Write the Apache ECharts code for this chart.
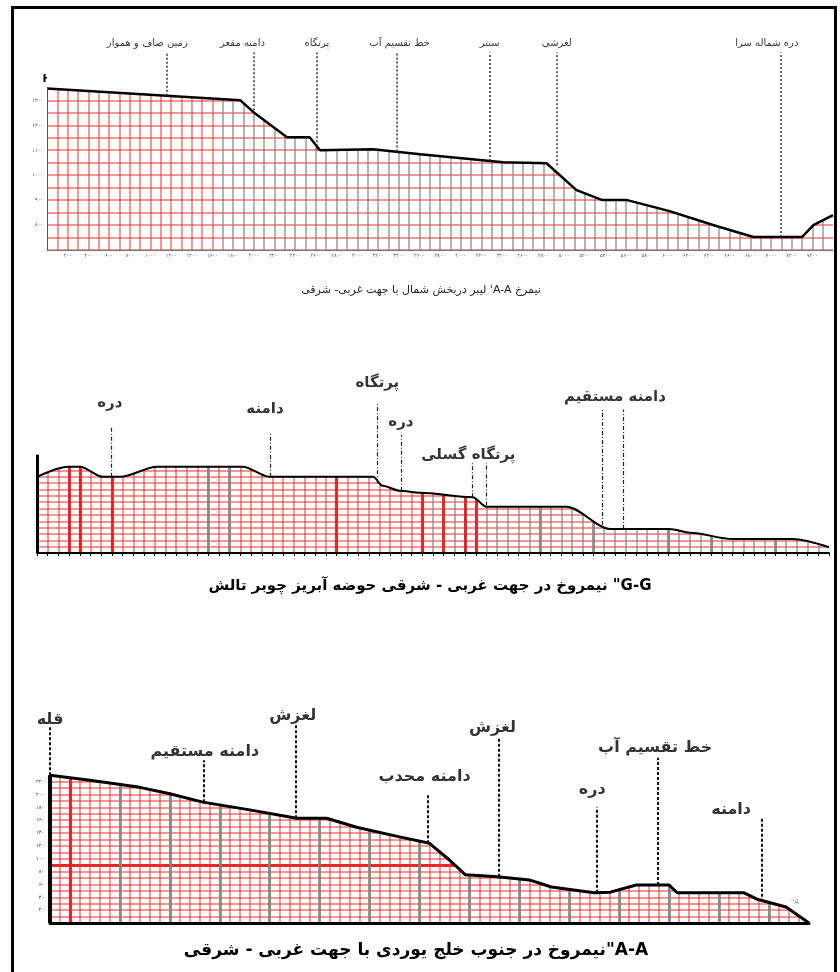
<!DOCTYPE html>
<html>
<head>
<meta charset="utf-8">
<script src="https://cdn.jsdelivr.net/npm/echarts@6/dist/echarts.min.js"></script>
<style>
  body { margin: 0; background: #fff; }
  #chart { position: absolute; left: 0; top: 0; width: 840px; height: 972px; direction: rtl; }
  #frame { position: absolute; left: 11px; top: 6px; width: 826px; height: 972px; border: 3px solid #000; box-sizing: border-box; }
</style>
</head>
<body>
<div id="chart"></div>
<div id="frame"></div>
<script>
// ---- profile 1 : A-A' (distance m, elevation m)
var p1Dist = [0, 1870, 2010, 2320, 2540, 2640, 3150, 3610, 4410, 4830, 5120, 5370, 5610, 6020, 6440, 6830, 7300, 7410, 7600];
var p1Elev = [1348, 1300, 1248, 1152, 1152, 1100, 1104, 1084, 1052, 1048, 940, 900, 900, 856, 800, 752, 752, 800, 840];
var p1Labels = ['زمین صاف و هموار', 'دامنه مقعر', 'پرتگاه', 'خط تقسیم آب', 'سنتر', 'لغزشی', 'دره شماله سرا'];
var p1LabelX = [970, 1890, 2610, 3410, 4280, 4930, 6960];
var p1LabelY = [1528, 1528, 1528, 1528, 1528, 1528, 1528];
var p1LineX = [1160, 2000, 2610, 3380, 4280, 4930, 7090];
var p1LineLow = [1318, 1260, 1100, 1095, 1057, 1040, 752];
var p1LineHigh = [1492, 1492, 1492, 1492, 1492, 1492, 1492];
var p1Title = "نیمرخ A-A' لیبر دربخش شمال با جهت غربی- شرقی";

// ---- profile 2 : G-G''
var p2Dist = [0, 290, 400, 620, 780, 1120, 1920, 2180, 3140, 3230, 3390, 3580, 4070, 4200, 4950, 5350, 5910, 6100, 6500, 7060, 7400];
var p2Elev = [120, 136, 136, 120, 120, 136, 136, 120, 120, 106, 98, 95, 88, 73, 73, 38, 38, 32, 22, 22, 9];
var p2Labels = ['دره', 'دامنه', 'پرتگاه', 'دره', 'پرتگاه گسلی', 'دامنه مستقیم'];
var p2LabelX = [680, 2130, 3180, 3400, 4030, 5400];
var p2LabelY = [237, 226, 268, 207, 155, 245];
var p2LineX = [690, 2180, 3180, 3400, 4070, 4200, 5280, 5480];
var p2LineLow = [120, 120, 110, 98, 88, 75, 44, 38];
var p2LineHigh = [199, 189, 237, 186, 142, 142, 226, 226];
var p2Title = 'G-G" نیمروخ در جهت غربی - شرقی حوضه آبریز چوبر تالش';

// ---- profile 3 : A-A''
var p3Dist = [0, 400, 900, 1200, 1530, 2000, 2470, 2770, 3070, 3500, 3800, 4000, 4160, 4480, 4800, 5020, 5450, 5610, 5870, 6200, 6280, 6950, 7080, 7370, 7600];
var p3Elev = [230, 222, 211, 201, 188, 176, 163, 163, 149, 134, 124, 98, 75, 72, 67, 56, 47, 48, 59, 59, 47, 47, 37, 25, 0];
var p3Labels = ['قله', 'دامنه مستقیم', 'لغزش', 'دامنه محدب', 'لغزش', 'دره', 'خط تقسیم آب', 'دامنه'];
var p3LabelX = [0, 1550, 2430, 3750, 4430, 5430, 6060, 6820];
var p3LabelY = [316, 266, 323, 227, 303, 207, 272, 176];
var p3LineX = [0, 1540, 2460, 3780, 4490, 5470, 6090, 7130];
var p3LineLow = [230, 188, 163, 124, 72, 47, 59, 33];
var p3LineHigh = [305, 253, 308, 202, 288, 180, 257, 163];
var p3EndLabel = ['A"', 7460, 33];
var p3Title = 'A-A"نیمروخ در جنوب خلج یوردی با جهت غربی - شرقی';

var FONT = 'DejaVu Sans';
var RED = 'rgba(236,55,55,0.7)';
var RED_STRONG = 'rgba(235,30,30,0.95)';
var GRAY = 'rgba(130,130,130,0.8)';
var NONE = 'rgba(0,0,0,0)';

function persian(v) {
  return String(v).replace(/\d/g, function (c) { return '۰۱۲۳۴۵۶۷۸۹'[c]; });
}
// colours for split lines, by tick number; "from" = first tick actually drawn
function lineColors(from, n, pick) {
  var a = [];
  for (var i = from; i <= n; i++) a.push(pick(i));
  return a;
}
function pairs(xs, ys) {
  return xs.map(function (x, i) { return [x, ys[i]]; });
}

function profileSeries(idx, xs, ys, width, smooth) {
  return {
    type: 'line', xAxisIndex: idx, yAxisIndex: idx, silent: true, z: 2,
    data: pairs(xs, ys), symbol: 'none', smooth: smooth, smoothMonotone: 'x',
    lineStyle: { color: '#000', width: width },
    areaStyle: { color: '#fff', opacity: 1, origin: 'end' }
  };
}

function markerSeries(idx, names, lx, ly, mx, lo, hi, font, line, extraLines) {
  var lines = mx.map(function (x, i) {
    return [{ coord: [x, lo[i]] }, { coord: [x, hi[i]] }];
  });
  return {
    type: 'scatter', xAxisIndex: idx, yAxisIndex: idx, silent: true, z: 5,
    symbolSize: 0,
    data: names.map(function (n, i) { return [lx[i], ly[i], n]; }),
    label: {
      show: true, position: 'inside', color: '#000',
      fontFamily: FONT, fontSize: font.size, fontWeight: font.weight,
      formatter: function (p) { return p.data[2]; }
    },
    markLine: {
      silent: true, symbol: ['none', 'none'], animation: false,
      label: { show: false },
      lineStyle: line,
      data: lines.concat(extraLines || [])
    }
  };
}

// hidden axis used only to draw a few heavier grid lines
function accentAxis(grid, max, count, pick, width) {
  return {
    gridIndex: grid, type: 'value', min: 0, max: max, interval: max / count,
    axisLine: { show: false }, axisTick: { show: false }, axisLabel: { show: false },
    splitLine: { show: true, showMaxLine: false,
      lineStyle: { width: width, color: lineColors(0, count, pick) } }
  };
}

var chart = echarts.init(document.getElementById('chart'));

var option = {
  animation: false,
  backgroundColor: '#fff',
  title: [
    { text: p1Title, left: 416, top: 280, textAlign: 'center',
      textStyle: { fontFamily: FONT, fontSize: 11, fontWeight: 'normal', color: '#222' } },
    { text: p2Title, left: 425, top: 574, textAlign: 'center',
      textStyle: { fontFamily: FONT, fontSize: 15, fontWeight: 'bold', color: '#000' } },
    { text: p3Title, left: 411, top: 937, textAlign: 'center',
      textStyle: { fontFamily: FONT, fontSize: 17, fontWeight: 'bold', color: '#000' } }
  ],
  grid: [
    { left: 47, top: 38, width: 786, height: 212 },
    { left: 37, top: 369, width: 792, height: 184 },
    { left: 50, top: 698, width: 759, height: 225 }
  ],
  xAxis: [
    {
      gridIndex: 0, type: 'value', min: 0, max: 7600, interval: 100,
      axisLine: { lineStyle: { color: '#777', width: 1 } },
      axisTick: { show: false },
      axisLabel: {
        fontSize: 5, color: '#555', margin: 3, fontFamily: FONT,
        formatter: function (v) { return v % 200 === 0 && v > 0 && v < 7600 ? persian(v) : ''; }
      },
      splitLine: { show: true, showMinLine: false, showMaxLine: false,
        lineStyle: { width: 1.5, color: lineColors(1, 76, function (i) { return i <= 16 ? RED : GRAY; }) } }
    },
    {
      gridIndex: 1, type: 'value', min: 0, max: 7400, interval: 100,
      axisLine: { lineStyle: { color: '#000', width: 2 } },
      axisTick: { show: true, length: 3, lineStyle: { color: '#000' } },
      axisLabel: { show: false },
      splitLine: { show: true, showMinLine: false, showMaxLine: false, lineStyle: { width: 1.5, color: lineColors(1, 74, function (i) {
        return (i <= 36 && i !== 16 && i !== 18) ? RED : GRAY; }) } }
    },
    {
      gridIndex: 2, type: 'value', min: 0, max: 7600, interval: 100,
      axisLine: { lineStyle: { color: '#000', width: 3 } },
      axisTick: { show: false },
      axisLabel: { show: false },
      splitLine: { show: true, showMinLine: false, showMaxLine: false, lineStyle: { width: 1.5, color: lineColors(1, 76, function (i) {
        return (i % 5 === 2 && i > 2) ? GRAY : RED; }) } }
    },
    accentAxis(1, 7400, 74, function (i) {
      if ([3, 4, 7, 28, 36, 38, 40, 41].indexOf(i) >= 0) return RED_STRONG;
      if ([16, 18, 47, 52, 59, 63, 69].indexOf(i) >= 0) return GRAY;
      return NONE;
    }, 3),
    accentAxis(2, 7600, 76, function (i) {
      if (i === 2) return RED_STRONG;
      if (i % 5 === 2 && i > 2) return GRAY;
      return NONE;
    }, 3)
  ],
  yAxis: [
    {
      gridIndex: 0, type: 'value', min: 700, max: 1550, interval: 50,
      name: 'H', nameLocation: 'end', nameGap: -47,
      nameTextStyle: { fontFamily: FONT, fontSize: 11, fontWeight: 'bold', color: '#000' },
      axisLine: { show: false },
      axisTick: { show: false },
      axisLabel: {
        fontSize: 5, color: '#444', margin: 4, fontFamily: FONT,
        formatter: function (v) { return v % 100 === 0 && v > 700 && v <= 1300 ? persian(v) : ''; }
      },
      splitLine: { show: true, showMaxLine: false, lineStyle: { color: RED, width: 1.5 } }
    },
    {
      gridIndex: 1, type: 'value', min: 0, max: 290, interval: 10,
      axisLine: { show: false }, axisTick: { show: false }, axisLabel: { show: false },
      splitLine: { show: true, showMaxLine: false, lineStyle: { color: RED, width: 1.5 } }
    },
    {
      gridIndex: 2, type: 'value', min: 0, max: 350, interval: 10,
      axisLine: { show: false }, axisTick: { show: false },
      axisLabel: {
        fontSize: 5, color: '#333', margin: 6, fontFamily: FONT,
        formatter: function (v) { return v % 20 === 0 && v > 0 && v <= 220 ? persian(v) : ''; }
      },
      splitLine: { show: true, showMaxLine: false, lineStyle: { color: RED, width: 1.5 } }
    },
    {
      gridIndex: 2, type: 'value', min: 0, max: 350, interval: 10,
      axisLine: { show: false }, axisTick: { show: false }, axisLabel: { show: false },
      splitLine: { show: true, showMaxLine: false,
        lineStyle: { width: 3, color: lineColors(0, 35, function (i) { return i === 9 ? RED_STRONG : NONE; }) } }
    }
  ],
  series: [
    profileSeries(0, p1Dist, p1Elev, 2.5, false),
    markerSeries(0, p1Labels, p1LabelX, p1LabelY, p1LineX, p1LineLow, p1LineHigh,
      { size: 10, weight: 'normal' }, { color: '#333', width: 1.5, type: [2, 2] },
      [[{ coord: [0, 700], lineStyle: { type: 'solid', width: 1, color: '#555' } }, { coord: [0, 1348] }]]),

    profileSeries(1, p2Dist, p2Elev, 2, 0.3),
    markerSeries(1, p2Labels, p2LabelX, p2LabelY, p2LineX, p2LineLow, p2LineHigh,
      { size: 15, weight: 'bold' }, { color: '#222', width: 1.2, type: [4, 2, 1, 2] },
      [[{ coord: [0, 0], lineStyle: { type: 'solid', width: 3, color: '#000' } }, { coord: [0, 155] }]]),

    profileSeries(2, p3Dist, p3Elev, 3, false),
    markerSeries(2, p3Labels, p3LabelX, p3LabelY, p3LineX, p3LineLow, p3LineHigh,
      { size: 16, weight: 'bold' }, { color: '#111', width: 2, type: [3, 2] },
      [[{ coord: [0, 0], lineStyle: { type: 'solid', width: 4, color: '#000' } }, { coord: [0, 230] }]]),
    {
      type: 'scatter', xAxisIndex: 2, yAxisIndex: 2, silent: true, z: 5, symbolSize: 0,
      data: [[p3EndLabel[1], p3EndLabel[2], p3EndLabel[0]]],
      label: { show: true, position: 'inside', color: '#777', fontSize: 7, fontFamily: FONT,
        formatter: function (p) { return p.data[2]; } }
    }
  ]
};

chart.setOption(option);
</script>
</body>
</html>
